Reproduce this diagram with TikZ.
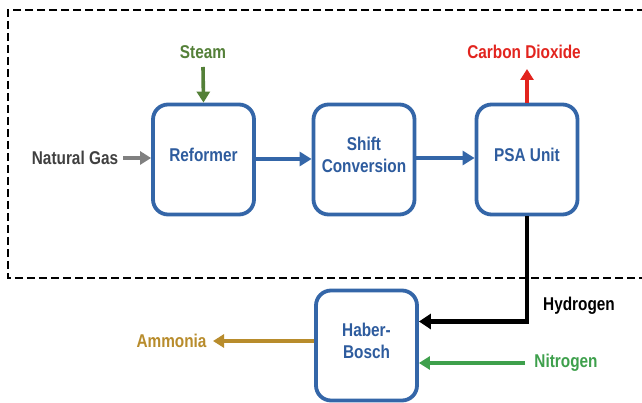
\documentclass[tikz,border=0pt]{standalone}
\usepackage{fontspec}
\setmainfont{Liberation Sans}[FakeStretch=0.83]
\usetikzlibrary{arrows.meta}
\definecolor{boxblue}{RGB}{52,102,168}
\definecolor{txtblue}{RGB}{46,92,158}
\definecolor{steamgreen}{RGB}{84,128,56}
\definecolor{gasgray}{RGB}{128,128,128}
\definecolor{co2red}{RGB}{226,36,30}
\definecolor{nh3gold}{RGB}{184,140,44}
\definecolor{n2green}{RGB}{62,160,76}
\definecolor{labgray}{RGB}{64,64,64}
\begin{document}
\begin{tikzpicture}[x=1pt,y=-1pt,
  unit/.style={draw=boxblue,line width=3.8pt,rounded corners=15pt,fill=white,
    minimum width=101pt,minimum height=110pt,inner sep=0pt},
  ulabel/.style={align=center,text=txtblue,yshift=5pt,
    font=\fontsize{18.5}{22}\selectfont\bfseries,inner sep=0pt},
  lbl/.style={font=\fontsize{18.5}{22}\selectfont\bfseries,inner sep=0pt},
  flow/.style={line width=4pt,-{Triangle[length=12pt,width=14pt]}},
  thinflow/.style={line width=3.6pt,-{Triangle[length=11pt,width=13pt]}}]
\useasboundingbox (0,0) rectangle (642,403);
\fill[white] (0,0) rectangle (642,403);

% plant boundary
\draw[line width=2.4pt,dash pattern=on 8pt off 4pt] (645,10) -- (8,10) -- (8,278) -- (645,278);

% process units
\node[unit,label={[ulabel]center:Reformer}] (ref) at (203.5,159.5) {};
\node[unit,label={[ulabel]center:Shift\\Conversion}] (shift) at (364,159.5) {};
\node[unit,label={[ulabel]center:PSA Unit}] (psa) at (527,159.5) {};
\node[unit,label={[ulabel]center:Haber-\\Bosch}] (hb) at (366.5,345.5) {};

% external streams
\node[lbl,text=steamgreen] (steam) at (203,52) {Steam};
\node[lbl,text=labgray] (gas) at (75,158) {Natural Gas};
\node[lbl,text=co2red] (co2) at (524,52) {Carbon Dioxide};
\node[lbl,text=black] (h2) at (579,306) {Hydrogen};
\node[lbl,text=nh3gold] (nh3) at (171.5,341) {Ammonia};
\node[lbl,text=n2green] (n2) at (566,363) {Nitrogen};

\coordinate (steamtop) at (203,67);
\coordinate (gasend) at (123,158);
\coordinate (co2end) at (527,69);
\coordinate (h2corner) at (527,321.5);
\coordinate (nh3end) at (213,341);
\coordinate (n2start) at (525,363);

\draw[thinflow,draw=steamgreen,fill=steamgreen] (steamtop) -- (ref.north);
\draw[thinflow,draw=gasgray,fill=gasgray] (gasend) -- (gasend -| ref.west);
\draw[flow,draw=boxblue,fill=boxblue] (ref.east |- 0,159) -- (shift.west |- 0,159);
\draw[flow,draw=boxblue,fill=boxblue] (shift.east |- 0,158) -- (psa.west |- 0,158);
\draw[thinflow,draw=co2red,fill=co2red] (psa.north) -- (co2end);
\draw[line width=4.5pt,-{Triangle[length=12pt,width=15pt]}] (psa.south) -- (h2corner) -- (h2corner -| hb.east);
\draw[thinflow,draw=nh3gold,fill=nh3gold] (nh3end -| hb.west) -- (nh3end);
\draw[thinflow,draw=n2green,fill=n2green] (n2start) -- (n2start -| hb.east);
\end{tikzpicture}
\end{document}
